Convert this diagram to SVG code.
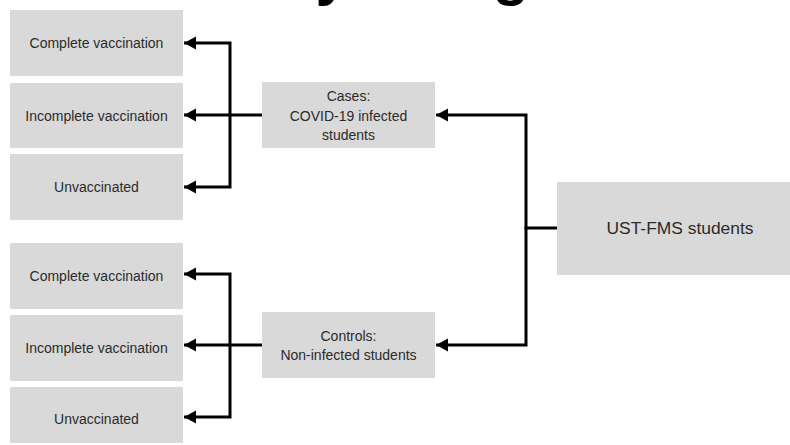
<svg xmlns="http://www.w3.org/2000/svg" width="790" height="445" viewBox="0 0 790 445">
<style>
.box{fill:#d9d9d9}
.lbl{font-family:"Liberation Sans",Arial,sans-serif;font-size:14px;fill:#2b2b2b;text-anchor:middle;dominant-baseline:central}
.big{font-size:17.4px}
.title{font-family:"Liberation Sans",Arial,sans-serif;font-size:60px;font-weight:bold;fill:#000;text-anchor:middle}
.con{fill:none;stroke:#000;stroke-width:3;stroke-linejoin:miter;marker-end:url(#ah)}
.seg{fill:none;stroke:#000;stroke-width:3}
</style>
<defs>
<marker id="ah" markerUnits="userSpaceOnUse" markerWidth="14" markerHeight="14" refX="12" refY="7" orient="auto" overflow="visible">
<path d="M0,0.5 L12,7 L0,13.5 Z" fill="#000"/>
</marker>
</defs>
<rect width="790" height="445" fill="#fff"/>
<text class="title" x="374" y="-6">Study Design</text>

<g id="connectors">
<path class="con" d="M230,115 V43 H184"/>
<path class="con" d="M230,115 V187 H184"/>
<path class="con" d="M262,115 H184"/>
<path class="con" d="M230,346 V274 H184"/>
<path class="con" d="M230,346 V417 H184"/>
<path class="con" d="M262,345 H184"/>
<path class="con" d="M526,228 V115 H436"/>
<path class="con" d="M526,228 V345 H436"/>
<path class="seg" d="M557,228 H524.5"/>
</g>

<g id="n1"><rect class="box" x="10" y="10" width="173" height="66"/><text class="lbl" x="96.5" y="43">Complete vaccination</text></g>
<g id="n2"><rect class="box" x="10" y="83" width="173" height="65"/><text class="lbl" x="96.5" y="115.5">Incomplete vaccination</text></g>
<g id="n3"><rect class="box" x="10" y="154" width="173" height="66"/><text class="lbl" x="96.5" y="187">Unvaccinated</text></g>
<g id="n4"><rect class="box" x="10" y="243" width="173" height="66"/><text class="lbl" x="96.5" y="276">Complete vaccination</text></g>
<g id="n5"><rect class="box" x="10" y="315" width="173" height="66"/><text class="lbl" x="96.5" y="348">Incomplete vaccination</text></g>
<g id="n6"><rect class="box" x="10" y="387" width="173" height="56"/><text class="lbl" x="96.5" y="419">Unvaccinated</text></g>
<g id="cases"><rect class="box" x="262" y="82" width="173" height="66"/>
<text class="lbl" x="348.5" y="96">Cases:</text>
<text class="lbl" x="348.5" y="116">COVID-19 infected</text>
<text class="lbl" x="348.5" y="135">students</text></g>
<g id="controls"><rect class="box" x="262" y="312" width="173" height="66"/>
<text class="lbl" x="348.5" y="336">Controls:</text>
<text class="lbl" x="348.5" y="355">Non-infected students</text></g>
<g id="ust"><rect class="box" x="557" y="182" width="246" height="93"/><text class="lbl big" x="680" y="228">UST-FMS students</text></g>
</svg>
